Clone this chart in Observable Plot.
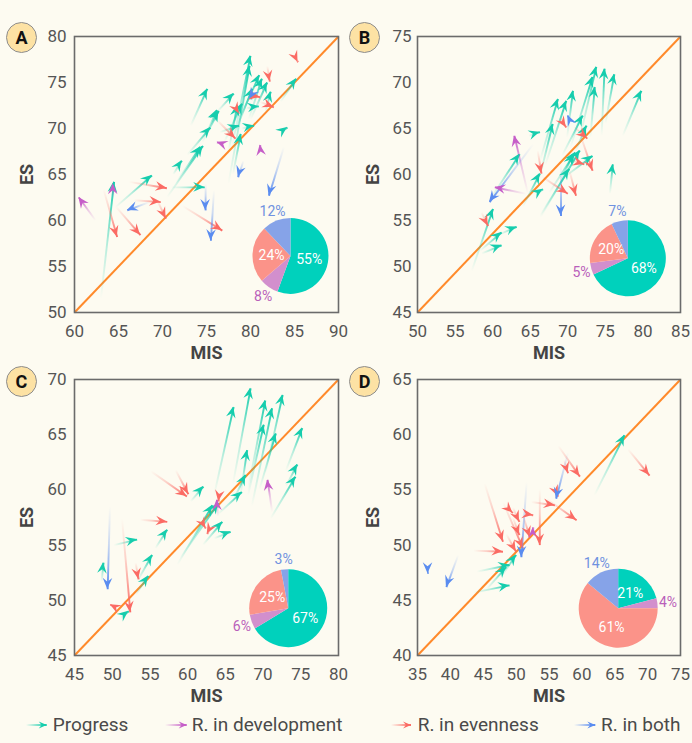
<!DOCTYPE html>
<html>
<head>
<meta charset="utf-8">
<script src="https://cdn.jsdelivr.net/npm/d3@7"></script>
<script src="https://cdn.jsdelivr.net/npm/@observablehq/plot@0.6"></script>
<style>
  html, body { margin: 0; padding: 0; background: #fdfbf1; }
  #root { position: relative; width: 692px; height: 743px; background: #fdfbf1; overflow: hidden; font-family: Roboto, "Noto Sans", sans-serif; }
  .panel { position: absolute; }
  .panel svg { overflow: visible; background: none; }
  .badge { position: absolute; width: 31px; height: 31px; margin: -15.5px 0 0 -15.5px; border-radius: 50%;
           background: #fde2a4; border: 1px solid #8d8d8d; box-sizing: border-box;
           font: bold 18px Roboto, sans-serif; color: #111; display: flex; align-items: center; justify-content: center; }
  #legend { position: absolute; left: 0; top: 705px; }
</style>
</head>
<body>
<div id="root"></div>
<script>
// ---------------- data ----------------
const categories = ["Progress", "R. in development", "R. in evenness", "R. in both"];
const arrowColors = ["#16cdad", "#c65ec8", "#fb6b64", "#5a8cf0"];
const pieColors = ["#00d1bc", "#d28fcd", "#fb9389", "#86a3e8"];
const pieLabelColors = ["#00b9a5", "#b95fba", "#f2776e", "#7092e0"];

// each arrow: [MIS start, ES start, MIS end, ES end, category index]
const arrowsA = [
  [63.0, 51.5, 64.5, 64.2, 0], [64.6, 61.4, 68.8, 64.9, 0], [73.2, 70.3, 75.1, 74.3, 0],
  [71.2, 65.0, 72.2, 66.5, 0], [71.5, 64.0, 74.3, 68.0, 0], [70.5, 62.5, 74.6, 68.1, 0],
  [71.0, 63.6, 74.8, 63.6, 0], [72.8, 67.1, 75.45, 70.1, 0], [74.5, 68.5, 76.4, 71.9, 0],
  [76.2, 71.8, 78.1, 73.8, 0], [77.9, 68.0, 80.0, 77.9, 0], [77.5, 64.0, 79.9, 76.8, 0],
  [76.5, 69.6, 78.7, 70.3, 0], [78.0, 65.0, 78.9, 69.4, 0], [79.0, 70.0, 80.4, 70.3, 0],
  [79.5, 72.2, 80.95, 72.4, 0], [78.5, 70.5, 81.0, 75.8, 0], [79.8, 71.0, 81.3, 75.4, 0],
  [80.0, 71.0, 81.9, 75.0, 0], [81.7, 71.8, 82.3, 74.0, 0], [83.4, 72.9, 85.2, 75.4, 0],
  [83.5, 69.6, 84.2, 70.1, 0], [78.0, 69.0, 80.2, 74.3, 0], [77.0, 68.5, 79.05, 72.7, 0],
  [75.0, 69.5, 76.2, 72.0, 0], [77.5, 67.5, 78.5, 72.5, 0],
  [62.4, 60.0, 60.5, 62.5, 1], [64.4, 62.5, 64.4, 64.0, 1], [76.8, 68.3, 76.2, 68.5, 1],
  [81.2, 67.5, 81.1, 68.2, 1],
  [63.3, 63.4, 64.85, 58.2, 2], [64.7, 61.5, 67.5, 58.4, 2], [66.2, 64.2, 70.5, 63.5, 2],
  [66.75, 62.2, 69.8, 62.0, 2], [69.4, 62.2, 70.4, 60.2, 2], [72.25, 61.6, 76.8, 58.9, 2],
  [76.2, 70.9, 78.3, 68.9, 2], [78.3, 72.3, 78.7, 71.6, 2], [79.8, 73.6, 81.1, 73.4, 2],
  [81.9, 76.8, 82.2, 75.1, 2], [81.1, 72.9, 82.65, 72.3, 2], [85.2, 77.6, 85.4, 77.2, 2],
  [68.5, 62.0, 66.0, 61.1, 3], [74.9, 64.0, 74.9, 61.1, 3], [75.85, 63.3, 75.5, 57.8, 3],
  [79.2, 66.5, 78.6, 64.7, 3], [83.8, 68.0, 82.1, 62.7, 3], [80.3, 73.8, 79.9, 73.2, 3]
];
const arrowsB = [
  [57.2, 49.5, 60.06, 56.25, 0], [58.3, 51.7, 61.2, 53.7, 0], [58.5, 51.4, 61.2, 52.3, 0],
  [60.9, 53.5, 63.2, 54.3, 0], [59.6, 57.2, 63.6, 62.2, 0], [64.0, 56.5, 66.3, 60.1, 0],
  [66.0, 58.0, 66.7, 58.4, 0], [64.8, 64.2, 66.3, 64.6, 0], [66.2, 59.5, 68.0, 65.5, 0],
  [66.3, 61.5, 68.7, 68.2, 0], [67.0, 61.0, 69.8, 68.0, 0], [69.9, 64.0, 70.7, 69.1, 0],
  [66.3, 55.5, 70.2, 60.6, 0], [68.9, 59.0, 70.7, 62.2, 0], [66.3, 55.3, 71.6, 62.6, 0],
  [69.2, 62.0, 72.0, 66.4, 0], [71.0, 62.5, 72.5, 65.3, 0], [69.2, 59.5, 73.3, 62.0, 0],
  [70.3, 62.8, 73.3, 70.6, 0], [71.6, 64.0, 73.8, 71.7, 0], [73.0, 64.0, 73.6, 69.5, 0],
  [74.5, 64.2, 74.9, 71.5, 0], [75.0, 65.5, 76.2, 70.9, 0], [75.6, 57.9, 76.0, 61.1, 0],
  [77.3, 64.2, 79.8, 69.1, 0], [67.5, 58.0, 71.0, 62.4, 0],
  [64.7, 57.9, 62.9, 64.2, 1], [64.5, 57.9, 60.3, 58.6, 1],
  [58.5, 55.9, 59.4, 54.4, 2], [66.0, 62.6, 66.5, 60.1, 2], [66.5, 59.8, 70.0, 57.9, 2],
  [70.2, 60.5, 71.1, 57.7, 2], [68.9, 66.2, 69.8, 65.1, 2], [70.5, 61.5, 72.2, 61.1, 2],
  [71.6, 64.5, 73.3, 60.4, 2], [70.8, 65.2, 72.6, 63.9, 2],
  [65.4, 63.3, 59.6, 57.0, 3], [69.1, 61.1, 69.1, 55.5, 3], [70.3, 65.9, 70.0, 66.4, 3]
];
const arrowsC = [
  [48.6, 51.7, 48.85, 53.4, 0], [51.1, 48.4, 52.2, 49.0, 0], [50.2, 55.0, 53.3, 55.5, 0],
  [53.1, 50.5, 54.8, 52.2, 0], [53.3, 51.7, 55.3, 54.1, 0], [55.7, 54.7, 57.3, 56.4, 0],
  [60.4, 58.95, 62.1, 60.3, 0], [58.6, 53.2, 63.3, 58.6, 0], [59.0, 53.8, 64.1, 58.8, 0],
  [62.0, 55.0, 64.6, 57.1, 0], [63.5, 55.6, 65.7, 56.2, 0], [63.5, 59.5, 66.1, 67.5, 0],
  [66.0, 60.5, 68.35, 69.2, 0], [66.0, 59.0, 67.7, 61.35, 0], [67.0, 59.5, 67.9, 63.6, 0],
  [64.0, 57.8, 67.2, 59.8, 0], [68.0, 60.0, 70.3, 68.1, 0], [68.0, 59.5, 70.1, 65.9, 0],
  [68.5, 58.5, 71.2, 67.4, 0], [70.3, 61.5, 72.6, 68.6, 0], [69.5, 60.0, 71.7, 65.1, 0],
  [73.0, 61.7, 75.2, 65.6, 0], [73.0, 60.3, 74.55, 62.3, 0], [71.0, 57.4, 74.3, 61.2, 0],
  [71.2, 58.0, 70.6, 60.9, 1], [64.0, 57.6, 63.9, 59.1, 1],
  [55.1, 61.7, 59.9, 59.4, 2], [58.4, 61.8, 60.1, 59.6, 2], [53.7, 57.3, 57.3, 57.1, 2],
  [53.1, 53.4, 53.5, 51.9, 2], [51.3, 57.4, 52.4, 48.9, 2], [50.3, 49.4, 49.75, 49.6, 2],
  [62.0, 57.0, 62.4, 56.5, 2], [63.0, 56.5, 62.6, 56.0, 2], [64.3, 59.8, 64.1, 58.95, 2],
  [49.7, 58.5, 49.4, 51.0, 3]
];
const arrowsD = [
  [61.9, 54.5, 66.5, 59.95, 0], [43.5, 45.7, 49.0, 46.35, 0], [45.5, 46.0, 48.5, 48.0, 0],
  [44.0, 47.6, 49.0, 48.2, 0], [47.8, 47.2, 50.0, 49.1, 0],
  [52.6, 51.2, 52.6, 51.6, 1],
  [67.0, 58.7, 70.3, 56.3, 2], [56.4, 59.0, 59.7, 56.2, 2], [57.3, 57.7, 57.9, 56.5, 2],
  [54.6, 54.2, 59.2, 52.25, 2], [52.3, 53.9, 55.9, 53.6, 2], [55.9, 55.1, 56.4, 54.4, 2],
  [53.6, 55.1, 53.6, 50.0, 2], [51.3, 52.8, 52.6, 52.7, 2], [51.0, 52.8, 52.1, 50.7, 2],
  [48.0, 53.9, 51.05, 49.7, 2], [49.5, 52.5, 50.5, 50.9, 2], [49.5, 53.4, 50.5, 52.1, 2],
  [48.5, 53.5, 49.5, 52.9, 2], [45.2, 55.6, 48.0, 50.3, 2], [43.5, 49.5, 48.0, 49.4, 2],
  [48.5, 51.0, 50.0, 49.4, 2],
  [51.6, 55.7, 50.8, 48.9, 3], [57.9, 58.4, 56.1, 54.2, 3], [41.2, 49.1, 39.4, 46.2, 3],
  [36.6, 47.9, 36.6, 47.4, 3]
];

// pie shares (Progress, R. in development, R. in evenness, R. in both)
const pieA = [55, 8, 24, 12];
const pieB = [68, 5, 20, 7];
const pieC = [67, 6, 25, 3];
const pieD = [21, 4, 61, 14];

// axis domains and ticks
const xDomainA = [60, 90], yDomainA = [50, 80];
const xDomainB = [50, 85], yDomainB = [45, 75];
const xDomainC = [45, 80], yDomainC = [45, 70];
const xDomainD = [35, 75], yDomainD = [40, 65];
const xTicksA = [60, 65, 70, 75, 80, 85, 90], yTicksA = [50, 55, 60, 65, 70, 75, 80];
const xTicksB = [50, 55, 60, 65, 70, 75, 80, 85], yTicksB = [45, 50, 55, 60, 65, 70, 75];
const xTicksC = [45, 50, 55, 60, 65, 70, 75, 80], yTicksC = [45, 50, 55, 60, 65, 70];
const xTicksD = [35, 40, 45, 50, 55, 60, 65, 70, 75], yTicksD = [40, 45, 50, 55, 60, 65];
const panelLetters = ["A", "B", "C", "D"];

// ---------------- layout ----------------
const panels = [
  {id: "A", arrows: arrowsA, pie: pieA, xd: xDomainA, yd: yDomainA, xt: xTicksA, yt: yTicksA,
   left: 0, top: 0, ml: 74, mr: 8, pad: 8, pieC: [84.6, 56.1], pieR: 38},
  {id: "B", arrows: arrowsB, pie: pieB, xd: xDomainB, yd: yDomainB, xt: xTicksB, yt: yTicksB,
   left: 346, top: 0, ml: 71, mr: 12, pad: 6, pieC: [78.06, 50.84], pieR: 38},
  {id: "C", arrows: arrowsC, pie: pieC, xd: xDomainC, yd: yDomainC, xt: xTicksC, yt: yTicksC,
   left: 0, top: 343, ml: 74, mr: 8, pad: 8, pieC: [73.4, 49.24], pieR: 39},
  {id: "D", arrows: arrowsD, pie: pieD, xd: xDomainD, yd: yDomainD, xt: xTicksD, yt: yTicksD,
   left: 346, top: 343, ml: 71, mr: 12, pad: 6, pieC: [65.6, 44.24], pieR: 39.5}
];

const NS = "http://www.w3.org/2000/svg";
function el(name, attrs) {
  const e = document.createElementNS(NS, name);
  for (const k in attrs) e.setAttribute(k, attrs[k]);
  return e;
}
function headPoints(x1, y1, x2, y2, L, W, N) {
  const dx = x2 - x1, dy = y2 - y1, len = Math.hypot(dx, dy) || 1;
  const ux = dx / len, uy = dy / len, nx = -uy, ny = ux;
  return [[x2, y2], [x2 - L * ux + W * nx, y2 - L * uy + W * ny], [x2 - N * ux, y2 - N * uy],
          [x2 - L * ux - W * nx, y2 - L * uy - W * ny]].map(p => p.join(",")).join(" ");
}

// gradients for the shafts + arrow heads (positions via Plot's scales)
function arrowLayer(arrows, pid) {
  return function(index, scales) {
    const g = el("g", {});
    const defs = el("defs", {});
    g.appendChild(defs);
    arrows.forEach((a, i) => {
      const x1 = scales.x(a[0]), y1 = scales.y(a[1]), x2 = scales.x(a[2]), y2 = scales.y(a[3]);
      const col = arrowColors[a[4]];
      const lg = el("linearGradient", {id: `g${pid}${i}`, gradientUnits: "userSpaceOnUse", x1, y1, x2, y2});
      [[0, 0], [0.45, 0.3], [1, 1]].forEach(([o, op]) =>
        lg.appendChild(el("stop", {offset: o, "stop-color": col, "stop-opacity": op})));
      defs.appendChild(lg);
      g.appendChild(el("polygon", {points: headPoints(x1, y1, x2, y2, 11, 4.8, 7), fill: col}));
    });
    return g;
  };
}

function pieLayer(values, center, r) {
  return function(index, scales) {
    const g = el("g", {transform: `translate(${scales.x(center[0])},${scales.y(center[1])})`});
    const arcs = d3.pie().sort(null).value(d => d)(values);
    const arc = d3.arc().innerRadius(0).outerRadius(r);
    arcs.forEach((a, k) => g.appendChild(el("path", {d: arc(a), fill: pieColors[k]})));
    arcs.forEach((a, k) => {
      const mid = (a.startAngle + a.endAngle) / 2;
      const inside = values[k] >= 15;
      const rr = inside ? r * 0.5 : r * 1.27;
      const t = el("text", {x: Math.sin(mid) * rr, y: -Math.cos(mid) * rr, "text-anchor": "middle",
        "dominant-baseline": "central", "font-size": 14, fill: inside ? "#ffffff" : pieLabelColors[k]});
      t.textContent = values[k] + "%";
      g.appendChild(t);
    });
    return g;
  };
}

const root = document.getElementById("root");

panels.forEach((p, pi) => {
  const plot = Plot.plot({
    width: 346, height: 370,
    marginLeft: p.ml, marginRight: p.mr, marginTop: 36, marginBottom: 58,
    style: {fontSize: "17px", fontFamily: "Roboto, sans-serif", color: "#555", background: "none", overflow: "visible"},
    x: {domain: p.xd, ticks: p.xt, tickSize: 0, tickPadding: 12, label: null, tickFormat: d => String(d)},
    y: {domain: p.yd, ticks: p.yt, tickSize: 0, tickPadding: p.pad, label: null, tickFormat: d => String(d)},
    color: {type: "identity"},
    marks: [
      Plot.link([{x1: p.xd[0], y1: p.yd[0], x2: p.xd[1], y2: p.yd[1]}],
        {x1: "x1", y1: "y1", x2: "x2", y2: "y2", stroke: "#ff8a2b", strokeWidth: 2}),
      Plot.link(p.arrows, {x1: d => d[0], y1: d => d[1], x2: d => d[2], y2: d => d[3],
        stroke: (d, i) => `url(#g${p.id}${i})`, strokeWidth: 1.9}),
      arrowLayer(p.arrows, p.id),
      pieLayer(p.pie, p.pieC, p.pieR),
      Plot.frame({stroke: "#6b6b6b", strokeWidth: 1.6}),
      Plot.text(["MIS"], {frameAnchor: "bottom", dy: 41, lineAnchor: "middle", textAnchor: "middle",
        text: d => d, fontWeight: "bold", fontSize: 18, fill: "#444"}),
      Plot.text(["ES"], {frameAnchor: "left", dx: -(p.ml - 26.7), rotate: -90, lineAnchor: "middle", textAnchor: "middle",
        text: d => d, fontWeight: "bold", fontSize: 18, fill: "#444"})
    ]
  });
  const div = document.createElement("div");
  div.className = "panel";
  div.style.left = p.left + "px";
  div.style.top = p.top + "px";
  div.appendChild(plot);
  root.appendChild(div);

  const b = document.createElement("div");
  b.className = "badge";
  b.textContent = panelLetters[pi];
  b.style.left = (p.left + (pi % 2 ? 18.5 : 21.5)) + "px";
  b.style.top = (p.top + (pi < 2 ? 37 : 38.7)) + "px";
  root.appendChild(b);
});

// ---------------- legend ----------------
const legendX = [[26, 46.7, 52.7], [165, 186.7, 191.7], [391, 411, 417.7], [574, 595.3, 601]];
const leg = el("svg", {id: "legend", width: 692, height: 38});
const ldefs = el("defs", {});
leg.appendChild(ldefs);
categories.forEach((name, k) => {
  const [a0, a1, t0] = legendX[k];
  const lg = el("linearGradient", {id: `leg${k}`, gradientUnits: "userSpaceOnUse", x1: a0, y1: 20, x2: a1, y2: 20});
  [[0, 0], [1, 1]].forEach(([o, op]) => lg.appendChild(el("stop", {offset: o, "stop-color": arrowColors[k], "stop-opacity": op})));
  ldefs.appendChild(lg);
  leg.appendChild(el("line", {x1: a0, y1: 20, x2: a1, y2: 20, stroke: `url(#leg${k})`, "stroke-width": 2}));
  leg.appendChild(el("polygon", {points: headPoints(a0, 20, a1, 20, 8, 3.6, 5), fill: arrowColors[k]}));
  const t = el("text", {x: t0, y: 26.3, "font-size": 19, fill: "#4a4a4a", "font-family": "Roboto, sans-serif"});
  t.textContent = name;
  leg.appendChild(t);
});
root.appendChild(leg);
</script>
</body>
</html>
